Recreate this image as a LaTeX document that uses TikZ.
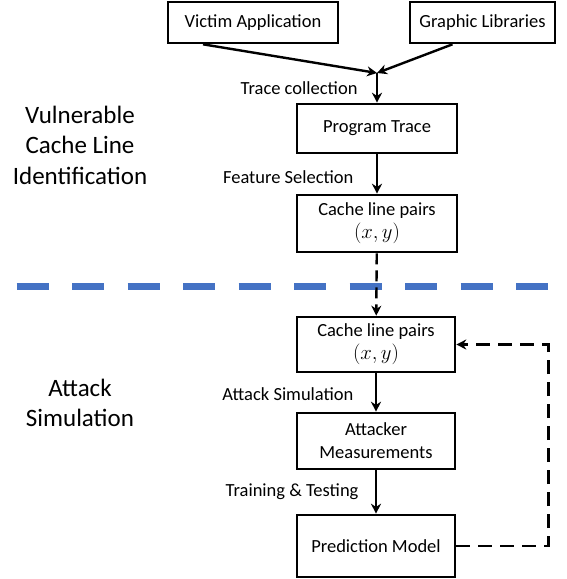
\documentclass[tikz,border=0pt]{standalone}
\usepackage{fontspec}
\setmainfont{Carlito}
\usepackage{tikz}
\usepackage{xcolor}
\usetikzlibrary{arrows.meta}
\definecolor{splitblue}{HTML}{4472C4}

\begin{document}
\begin{tikzpicture}[x=1pt,y=-1pt,
  box/.style={draw,line width=2.6pt,align=center,inner sep=0pt,
    font=\fontsize{18.5}{23}\selectfont},
  lbl/.style={font=\fontsize{18.5}{23}\selectfont,anchor=east},
  side/.style={align=center,font=\fontsize{25}{30.5}\selectfont},
  arr/.style={line width=2.4pt,-{Stealth[length=10pt,width=10pt]}},
  dsh/.style={line width=2.4pt,dash pattern=on 14pt off 8pt}]
\useasboundingbox (0,0) rectangle (566,579);
% top part
\node[box,minimum width=170pt,minimum height=41pt](victim) at (253,22.5){Victim Application};
\node[box,minimum width=145pt,minimum height=41pt](graphic) at (482.5,22.5){Graphic Libraries};
\coordinate (merge) at (377,73);
\node[box,minimum width=160pt,minimum height=49pt](trace) at (377,128.5){Program Trace};
\node[box,minimum width=160pt,minimum height=57pt](pairsA) at (377,223.5){Cache line pairs\\{\fontsize{21}{23}\selectfont$(x,y)$}};
\draw[arr](victim.south)++(-50,0)--(merge);
\draw[arr](graphic.south)++(-30,0)--(merge);
\draw[arr](merge)--(trace);
\draw[arr](trace)--(pairsA);
\node[lbl] at (361,88){Trace collection};
\node[lbl] at (357,177){Feature Selection};
\node[side] at (80,145){Vulnerable\\Cache Line\\Identification};
% split line
\draw[splitblue,line width=7pt,dash pattern=on 32pt off 23.5pt](16.5,286)--(548,286);
% bottom part
\node[box,minimum width=158pt,minimum height=55pt](pairsB) at (376,344.5){Cache line pairs\\{\fontsize{21}{23}\selectfont$(x,y)$}};
\node[box,minimum width=158pt,minimum height=56pt](meas) at (376,441){Attacker\\Measurements};
\node[box,minimum width=158pt,minimum height=62pt](pred) at (376,546){Prediction Model};
\draw[dsh,-{Stealth[length=10pt,width=10pt]},dash pattern=on 11pt off 6pt](pairsA)--(pairsB);
\draw[arr](pairsB)--(meas);
\draw[arr](meas)--(pred);
\draw[dsh,-{Stealth[length=10pt,width=10pt]}](pred.east)--++(92,0)|-(pairsB.east);
\node[lbl] at (357,394){Attack Simulation};
\node[lbl] at (362,492){Training \& Testing};
\node[side] at (80,403){Attack\\Simulation};
\end{tikzpicture}
\end{document}
